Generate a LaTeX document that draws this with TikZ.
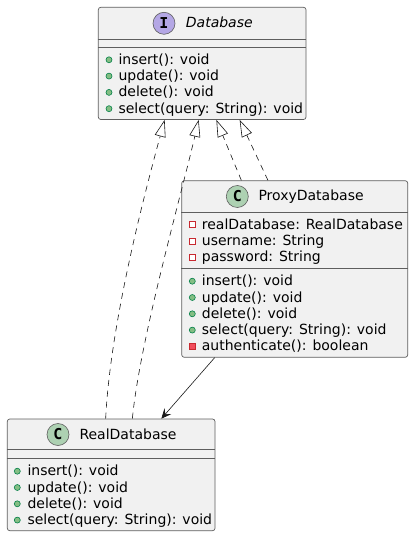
\documentclass[tikz,border=0pt]{standalone}
\usepackage{fontspec}
\setmainfont{DejaVu Sans}
\newfontfamily\iconfont{DejaVu Sans Mono}
\usetikzlibrary{arrows.meta,calc}
\definecolor{boxfill}{HTML}{F1F1F1}
\definecolor{boxline}{HTML}{5E5E5E}
\definecolor{conline}{HTML}{181818}
\definecolor{ifill}{HTML}{B4A7E5}
\definecolor{cfill}{HTML}{ADD1B2}
\definecolor{pubfill}{HTML}{84BE84}
\definecolor{publine}{HTML}{038048}
\definecolor{privfill}{HTML}{F24D5C}
\definecolor{privline}{HTML}{C82930}
\tikzset{
  umlbox/.style={draw=boxline, fill=boxfill, line width=0.7pt, rounded corners=2.5pt, inner sep=0pt},
  sepline/.style={draw=boxline, line width=0.7pt},
  member/.style={inner sep=0pt, anchor=base west, font=\fontsize{14pt}{16.3pt}\selectfont, text=black},
  clsname/.style={member},
  hdrcircle/.style={circle, draw=boxline, line width=0.6pt, minimum size=22pt, inner sep=0pt, font=\iconfont\bfseries\fontsize{15pt}{15pt}\selectfont},
  pubicon/.style={circle, minimum size=6pt, inner sep=0pt, fill=pubfill, draw=publine, line width=0.6pt},
  privattr/.style={rectangle, minimum size=6pt, inner sep=0pt, fill=white, draw=privline, line width=0.6pt},
  privmeth/.style={rectangle, minimum size=6pt, inner sep=0pt, fill=privfill, draw=privline, line width=0.6pt},
  realize/.style={draw=conline, line width=0.6pt, dash pattern=on 6pt off 5pt, -{Triangle[open, length=17pt, width=11pt]}},
  assoc/.style={draw=conline, line width=0.6pt, -{Stealth[length=10pt, width=9pt, inset=4pt]}}
}
\begin{document}
\begin{tikzpicture}[x=1pt,y=-1pt]
\useasboundingbox[fill=white] (0,0) rectangle (413,537);

% ---------- Database ----------
\node[umlbox, minimum width=207.7pt, minimum height=112.2pt] (db) at (202.15,63.4) {};
\draw[sepline] ($(db.north west)+(0,32)$) -- ($(db.north east)+(0,32)$);
\draw[sepline] ($(db.north west)+(0,40)$) -- ($(db.north east)+(0,40)$);
\node[hdrcircle, fill=ifill] (dbc) at (164,23.3) {I};
\node[clsname, font=\fontsize{14pt}{16.3pt}\selectfont\itshape] (dbname) at (185.7,27.6) {Database};
\node[pubicon] (dbi1) at (109,59.8) {};
\node[member] (dbm1) at (118.3,64.3) {insert(): void};
\node[pubicon] (dbi2) at (109,76.1) {};
\node[member] (dbm2) at (118.3,80.6) {update(): void};
\node[pubicon] (dbi3) at (109,92.4) {};
\node[member] (dbm3) at (118.3,96.9) {delete(): void};
\node[pubicon] (dbi4) at (109,108.7) {};
\node[member] (dbm4) at (118.3,113.2) {select(query: String): void};

% ---------- ProxyDatabase ----------
\node[umlbox, minimum width=226pt, minimum height=176.6pt] (px) at (294.7,269) {};
\draw[sepline] ($(px.north west)+(0,31.6)$) -- ($(px.north east)+(0,31.6)$);
\draw[sepline] ($(px.north west)+(0,88.3)$) -- ($(px.north east)+(0,88.3)$);
\node[hdrcircle, fill=cfill] (pxc) at (237.3,196.5) {C};
\node[clsname] (pxname) at (258.3,200.9) {ProxyDatabase};
\node[privattr] (pxa1) at (192.3,224.5) {};
\node[member] (pxt1) at (201.7,229) {realDatabase: RealDatabase};
\node[privattr] (pxa2) at (192.3,240.8) {};
\node[member] (pxt2) at (201.7,245.3) {username: String};
\node[privattr] (pxa3) at (192.3,257.1) {};
\node[member] (pxt3) at (201.7,261.6) {password: String};
\node[pubicon] (pxi1) at (192.3,281.2) {};
\node[member] (pxm1) at (201.7,285.7) {insert(): void};
\node[pubicon] (pxi2) at (192.3,297.5) {};
\node[member] (pxm2) at (201.7,302) {update(): void};
\node[pubicon] (pxi3) at (192.3,313.8) {};
\node[member] (pxm3) at (201.7,318.3) {delete(): void};
\node[pubicon] (pxi4) at (192.3,330.1) {};
\node[member] (pxm4) at (201.7,334.6) {select(query: String): void};
\node[privmeth] (pxi5) at (192.3,346.4) {};
\node[member] (pxm5) at (201.7,350.9) {authenticate(): boolean};

% ---------- RealDatabase ----------
\node[umlbox, minimum width=207.7pt, minimum height=111.7pt] (rd) at (111.15,474.85) {};
\draw[sepline] ($(rd.north west)+(0,31)$) -- ($(rd.north east)+(0,31)$);
\draw[sepline] ($(rd.north west)+(0,39.3)$) -- ($(rd.north east)+(0,39.3)$);
\node[hdrcircle, fill=cfill] (rdc) at (58,434.5) {C};
\node[clsname] (rdname) at (79.3,439) {RealDatabase};
\node[pubicon] (rdi1) at (17.3,471.2) {};
\node[member] (rdm1) at (27.3,475.7) {insert(): void};
\node[pubicon] (rdi2) at (17.3,487.5) {};
\node[member] (rdm2) at (27.3,492) {update(): void};
\node[pubicon] (rdi3) at (17.3,503.8) {};
\node[member] (rdm3) at (27.3,508.3) {delete(): void};
\node[pubicon] (rdi4) at (17.3,520.1) {};
\node[member] (rdm4) at (27.3,524.6) {select(query: String): void};

% ---------- connector end points ----------
\coordinate (db1) at ($(db.south west)+(66.7,0)$);
\coordinate (db2) at ($(db.south west)+(100.7,0)$);
\coordinate (db3) at ($(db.south west)+(118.4,0)$);
\coordinate (db4) at ($(db.south west)+(141.7,0)$);
\coordinate (rd1) at ($(rd.north west)+(98.7,0)$);
\coordinate (rd2) at ($(rd.north west)+(125.4,0)$);
\coordinate (rd3) at ($(rd.north west)+(154.4,0)$);
\coordinate (px1) at ($(px.north west)+(60,0)$);
\coordinate (px2) at ($(px.north west)+(86.6,0)$);
\coordinate (px3) at ($(px.south west)+(33.3,0)$);

% ---------- connectors ----------
\draw[realize] (rd1) .. controls (110,330) and (140,210) .. (db1);
\draw[realize] (rd2) .. controls (140,340) and (180,200) .. (db2);
\draw[realize] (px1) -- (db3);
\draw[realize] (px2) -- (db4);
\draw[assoc] (px3) -- (rd3);
\end{tikzpicture}
\end{document}
